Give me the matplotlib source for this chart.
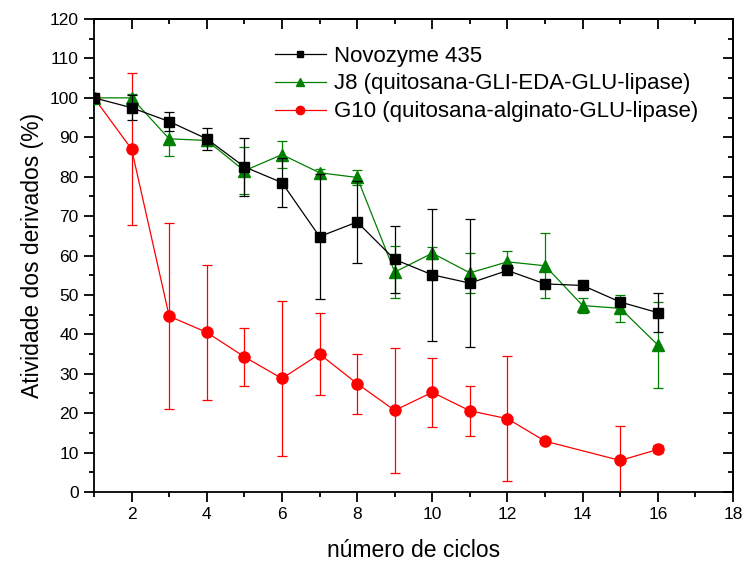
import numpy as np
import matplotlib
matplotlib.use("Agg")
import matplotlib.pyplot as plt
from matplotlib.lines import Line2D
from matplotlib.ticker import MultipleLocator, NullFormatter

plt.rcParams['font.family'] = ['Liberation Sans', 'DejaVu Sans']

# ---------- data ----------
ciclos = [1, 2, 3, 4, 5, 6, 7, 8, 9, 10, 11, 12, 13, 14, 15, 16]

novozyme = [100, 97.5, 94.0, 89.6, 82.5, 78.5, 64.8, 68.5, 59.0, 55.1, 53.0, 56.2, 52.8, 52.4, 48.2, 45.5]
novozyme_err = [0, 3.2, 2.3, 2.8, 7.4, 6.2, 15.8, 10.5, 8.4, 16.8, 16.2, 0.8, 0.8, 0.8, 0.8, 5.0]

j8 = [100, 100, 89.6, 89.2, 81.5, 85.6, 81.0, 79.8, 55.8, 60.6, 55.6, 58.4, 57.4, 47.3, 46.6, 37.3]
j8_err = [0, 1.0, 4.4, 1.5, 6.0, 3.4, 1.0, 2.0, 6.5, 1.5, 5.0, 2.8, 8.2, 1.8, 3.4, 10.8]

ciclos_g10 = [1, 2, 3, 4, 5, 6, 7, 8, 9, 10, 11, 12, 13, 15, 16]
g10 = [100, 87.0, 44.6, 40.5, 34.3, 28.8, 35.0, 27.5, 20.7, 25.3, 20.6, 18.6, 12.9, 8.0, 10.8]
g10_err = [0, 19.2, 23.6, 17.1, 7.3, 19.7, 10.4, 7.6, 15.8, 8.8, 6.3, 15.9, 0.5, 8.7, 1.0]

labels = ["Novozyme 435", "J8 (quitosana-GLI-EDA-GLU-lipase)", "G10 (quitosana-alginato-GLU-lipase)"]
# ---------------------------

fig = plt.figure(figsize=(7.45, 5.63), dpi=100)
ax = fig.add_axes([0.1262, 0.1261, 0.8577, 0.8401])

common = dict(lw=0.9, elinewidth=0.9, capsize=3.6, capthick=0.9)

ax.errorbar(ciclos_g10, g10, yerr=g10_err, color='#ff0000', marker='o', ms=8, zorder=2, **common)
ax.errorbar(ciclos, j8, yerr=j8_err, color='#008000', marker='^', ms=8.5, zorder=3, **common)
ax.errorbar(ciclos, novozyme, yerr=novozyme_err, color='black', marker='s', ms=7, zorder=4, **common)

ax.set_xlim(1, 18)
ax.set_ylim(0, 120)
ax.xaxis.set_major_locator(MultipleLocator(2))
ax.xaxis.set_minor_locator(MultipleLocator(1))
ax.yaxis.set_major_locator(MultipleLocator(10))
ax.yaxis.set_minor_locator(MultipleLocator(5))

# outward ticks on bottom/left
ax.tick_params(which='both', direction='out', top=False, right=False, width=1.3, labelsize=12.5)
ax.tick_params(which='major', length=7, pad=4)
ax.tick_params(which='minor', length=3.6)

# inward ticks on top and right
sec_x = ax.secondary_xaxis('top')
sec_y = ax.secondary_yaxis('right')
sec_x.xaxis.set_major_locator(MultipleLocator(2))
sec_x.xaxis.set_minor_locator(MultipleLocator(1))
sec_x.xaxis.set_major_formatter(NullFormatter())
sec_y.yaxis.set_major_locator(MultipleLocator(10))
sec_y.yaxis.set_minor_locator(MultipleLocator(5))
sec_y.yaxis.set_major_formatter(NullFormatter())
for sec in (sec_x, sec_y):
    sec.tick_params(which='both', direction='in', width=1.3)
    sec.tick_params(which='major', length=7)
    sec.tick_params(which='minor', length=3.6)
    for s in sec.spines.values():
        s.set_linewidth(1.3)

for s in ax.spines.values():
    s.set_linewidth(1.3)

ax.set_xlabel("número de ciclos", fontsize=16.5, labelpad=12)
ax.set_ylabel("Atividade dos derivados (%)", fontsize=16.5, labelpad=4)

# legend handles: line + marker, no error bars
handles = [
    Line2D([], [], color='black', marker='s', ms=5, lw=0.9),
    Line2D([], [], color='#008000', marker='^', ms=6, lw=0.9),
    Line2D([], [], color='#ff0000', marker='o', ms=6, lw=0.9),
]
ax.legend(handles, labels, loc='upper left', bbox_to_anchor=(0.262, 0.972), frameon=False,
          fontsize=16, handlelength=2.3, handletextpad=0.35, labelspacing=0.31,
          borderaxespad=0.2)

fig.savefig("out.png", dpi=100)
